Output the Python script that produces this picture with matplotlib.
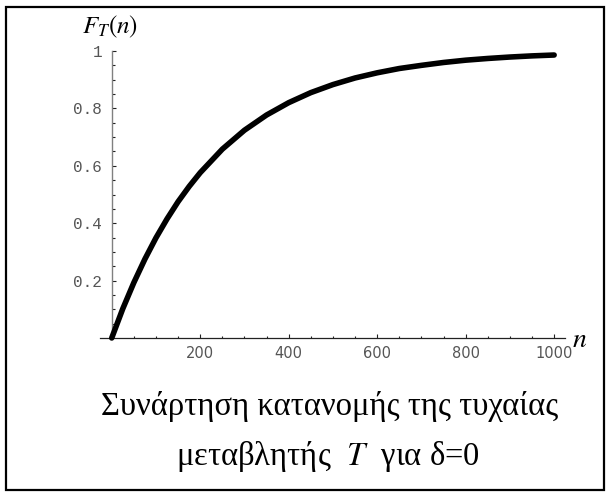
import numpy as np
import matplotlib
matplotlib.use("Agg")
import matplotlib.pyplot as plt
from matplotlib.patches import Rectangle

plt.rcParams['mathtext.fontset'] = 'stix'

# values
n_vals = [0, 25, 50, 75, 100, 125, 150, 175, 200, 250, 300, 350, 400, 450,
          500, 550, 600, 650, 700, 750, 800, 850, 900, 950, 1000]
F_vals = [0.0, 0.102, 0.193, 0.275, 0.349, 0.415, 0.475, 0.528, 0.576, 0.658,
          0.724, 0.777, 0.820, 0.855, 0.883, 0.906, 0.924, 0.939, 0.950, 0.960,
          0.968, 0.974, 0.979, 0.983, 0.986]
x_ticks = [200, 400, 600, 800, 1000]
y_ticks = [0.2, 0.4, 0.6, 0.8, 1.0]
y_labels = ['0.2', '0.4', '0.6', '0.8', '1']

fig = plt.figure(figsize=(6.08, 4.93), dpi=100)
ax = fig.add_axes([100/608, 1 - 338/493, 465/608, 287/493])

ax.plot(n_vals, F_vals, color='black', lw=4.0, solid_capstyle='round',
        solid_joinstyle='round', clip_on=False, zorder=5)

ax.set_xlim(-26.5, 1024.5)
ax.set_ylim(0, 1)

for s in ['top', 'right']:
    ax.spines[s].set_visible(False)
ax.spines['left'].set_position(('data', 0))
ax.spines['left'].set_color('#808080')
ax.spines['left'].set_linewidth(1.0)
ax.spines['bottom'].set_color('#222222')
ax.spines['bottom'].set_linewidth(0.9)

ax.set_xticks(x_ticks)
ax.set_xticklabels([str(t) for t in x_ticks], fontfamily='DejaVu Sans',
                   fontsize=10.5, color='#555555')
ax.set_xticks(np.arange(50, 1001, 50), minor=True)
ax.set_yticks(y_ticks)
ax.set_yticklabels(y_labels, fontfamily='Liberation Mono', fontsize=11.5,
                   color='#555555')
ax.set_yticks(np.arange(0.05, 1.0, 0.05), minor=True)

ax.tick_params(axis='both', which='major', direction='in', length=3,
               width=0.8, color='#222222')
ax.tick_params(axis='both', which='minor', direction='in', length=1.8,
               width=0.8, color='#222222')
ax.tick_params(axis='x', which='major', pad=6)
ax.tick_params(axis='y', which='major', pad=7)

fig.text(110/608, 1 - 27/493, r'$F_T(n)$', fontsize=18, ha='center', va='center')
fig.text(580/608, 1 - 339/493, r'$n$', fontsize=20, ha='center', va='center')

fig.text(330/608, 1 - 406/493, 'Συνάρτηση κατανομής της τυχαίας',
         fontfamily='Liberation Serif', fontsize=23.5, ha='center', va='center')
fig.text(328/608, 1 - 456/493, r'μεταβλητής  $T$  για δ=0',
         fontfamily='Liberation Serif', fontsize=23.5, ha='center', va='center')

fig.patches.append(Rectangle((6/608, 3/493), 598/608, 483/493,
                             transform=fig.transFigure, fill=False,
                             edgecolor='black', lw=1.6))

plt.savefig('out.png', dpi=100)
